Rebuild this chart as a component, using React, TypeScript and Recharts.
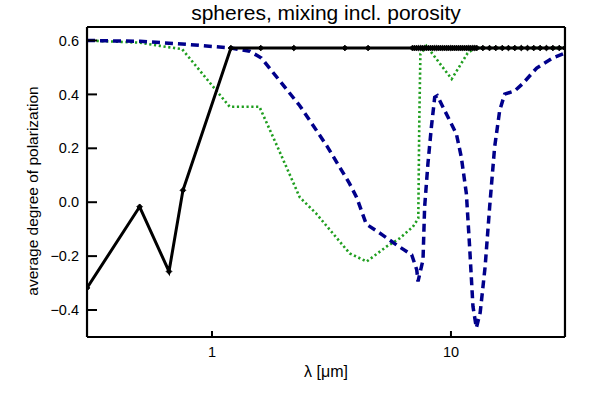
import React from 'react';
import { LineChart, Line, XAxis, YAxis, Customized } from 'recharts';

// ---- data ----
const blackX = [0.3, 0.498, 0.661, 0.756, 1.2, 1.6, 2.2, 3.6, 4.5,
  6.9, 7.03, 7.17, 7.31, 7.46, 7.6, 7.75, 7.9, 8.06, 8.22, 8.38, 8.54, 8.71, 8.88, 9.05, 9.23,
  9.41, 9.6, 9.78, 9.98, 10.17, 10.37, 10.57, 10.78, 10.99, 11.2, 11.42, 11.65, 11.87, 12.1,
  12.34, 12.58, 12.83, 13.6, 14.5, 15.4, 16.4, 17.4, 18.5, 19.7, 20.9, 22.2, 23.6, 25.1, 26.7, 28.4, 30];
const blackY = [-0.318, -0.017, -0.257, 0.044, 0.572, 0.572, 0.572, 0.572, 0.572,
  0.572, 0.572, 0.572, 0.572, 0.572, 0.572, 0.572, 0.572, 0.572, 0.572, 0.572, 0.572, 0.572, 0.572, 0.572, 0.572,
  0.572, 0.572, 0.572, 0.572, 0.572, 0.572, 0.572, 0.572, 0.572, 0.572, 0.572, 0.572, 0.572, 0.572,
  0.572, 0.572, 0.572, 0.572, 0.572, 0.572, 0.572, 0.572, 0.572, 0.572, 0.572, 0.572, 0.572, 0.572, 0.572, 0.572, 0.572];

const blueX = [0.3, 0.5, 0.75, 1.0, 1.2, 1.44, 1.61, 2.33, 3.02, 3.76, 4.03, 4.42, 5.18, 5.93, 6.85, 7.19, 7.28,
  7.64, 7.76, 8.01, 8.28, 8.55, 8.77, 9.88, 10.54, 11.05, 11.6, 11.97, 12.36, 12.77,
  13.25, 13.9, 14.52, 15.23, 15.99, 16.78, 18.48, 19.97, 22.85, 26.64, 30];
const blueY = [0.600, 0.597, 0.587, 0.578, 0.572, 0.56, 0.535, 0.358, 0.21, 0.07, 0.018, -0.081, -0.122, -0.159, -0.195, -0.25, -0.294,
  -0.214, -0.017, 0.143, 0.278, 0.389, 0.395, 0.303, 0.253, 0.167, 0.032, -0.165, -0.386, -0.466,
  -0.41, -0.239, -0.017, 0.204, 0.34, 0.401, 0.413, 0.44, 0.498, 0.535, 0.553];

const greenX = [0.3, 0.5, 0.605, 0.75, 1.186, 1.58, 1.87, 2.33, 2.73, 3.2, 3.77, 4.44, 5.37, 6.1, 6.93, 7.3,
  7.37, 7.45, 7.89, 8.38, 10.07, 11.74, 12.57, 30];
const greenY = [0.600, 0.592, 0.58, 0.568, 0.354, 0.354, 0.21, 0.018, -0.042, -0.115, -0.19, -0.22, -0.165, -0.134, -0.091, -0.06,
  0.3, 0.55, 0.58, 0.55, 0.457, 0.553, 0.572, 0.572];

const xMajor = [1, 10];
const xMinor = [0.4, 0.5, 0.6, 0.7, 0.8, 0.9, 2, 3, 4, 5, 6, 7, 8, 9, 20];
const yMajor = [-0.4, -0.2, 0, 0.2, 0.4, 0.6];
const yMinor = [-0.45, -0.35, -0.3, -0.25, -0.15, -0.1, -0.05, 0.05, 0.1, 0.15, 0.25, 0.3, 0.35, 0.45, 0.5, 0.55];

const title = 'spheres, mixing incl. porosity';
const xLabel = 'λ [μm]';
const yLabel = 'average degree of polarization';

const toData = (xs: number[], ys: number[]) => xs.map((x, i) => ({ x, y: ys[i] }));
const blackData = toData(blackX, blackY);
const blueData = toData(blueX, blueY);
const greenData = toData(greenX, greenY);

const FONT = '"Liberation Sans", Arial, Helvetica, sans-serif';
const W = 591;
const H = 393;
const M = { top: 27, right: 26, bottom: 56, left: 87 };
const T = 0.01; // axis thickness (tiny but positive so axes render)

const fmtY = (v: number) => {
  const s = Math.abs(v).toFixed(1);
  return v < -1e-9 ? '\u2212' + s : s;
};

const Diamond = (props: any) => {
  const { cx, cy } = props;
  if (cx == null || cy == null) return null;
  const r = 2.8;
  return <path d={`M${cx},${cy - r}L${cx + r},${cy}L${cx},${cy + r}L${cx - r},${cy}Z`} fill="#000" stroke="#000" strokeWidth={1} />;
};

const Texts = () => {
  const cx = M.left + (W - M.left - M.right) / 2;
  const cy = 191;
  return (
    <g fontFamily={FONT} fill="#000">
      <text x={cx} y={20} textAnchor="middle" fontSize={21}>{title}</text>
      <text x={cx} y={377} textAnchor="middle" fontSize={16}>{xLabel}</text>
      <text x={38} y={cy} textAnchor="middle" fontSize={15.5} transform={`rotate(-90 38 ${cy})`}>{yLabel}</text>
    </g>
  );
};

const axisStroke = { stroke: '#000', strokeWidth: 2.2 };
const tickLine = { stroke: '#000', strokeWidth: 2 };
const tickStyle = { fill: '#000', fontSize: 14.5, fontFamily: FONT };

export default function App() {
  return (
    <div style={{ position: 'absolute', left: 0, top: 0, width: W, height: H, background: '#fff' }}>
      <LineChart width={W} height={H} margin={M}>
        <XAxis xAxisId="x" dataKey="x" type="number" scale="log" domain={[0.3, 30]} allowDataOverflow
          ticks={xMajor} tickSize={-6} tickMargin={16} height={T} interval={0}
          axisLine={axisStroke} tickLine={tickLine} tick={tickStyle} />
        <XAxis xAxisId="xm" dataKey="x" type="number" scale="log" domain={[0.3, 30]} allowDataOverflow
          ticks={xMinor} tickSize={-3.5} height={T} interval={0}
          axisLine={false} tickLine={tickLine} tick={false} />
        <XAxis xAxisId="xt" orientation="top" dataKey="x" type="number" scale="log" domain={[0.3, 30]} allowDataOverflow
          ticks={xMajor} tickSize={-6} height={T} interval={0}
          axisLine={axisStroke} tickLine={tickLine} tick={false} />
        <XAxis xAxisId="xtm" orientation="top" dataKey="x" type="number" scale="log" domain={[0.3, 30]} allowDataOverflow
          ticks={xMinor} tickSize={-3.5} height={T} interval={0}
          axisLine={false} tickLine={tickLine} tick={false} />

        <YAxis yAxisId="y" type="number" domain={[-0.5, 0.65]} allowDataOverflow
          ticks={yMajor} tickSize={-10} tickMargin={18} width={T} interval={0} tickFormatter={fmtY}
          axisLine={axisStroke} tickLine={tickLine} tick={tickStyle} />
        <YAxis yAxisId="ym" type="number" domain={[-0.5, 0.65]} allowDataOverflow
          ticks={yMinor} tickSize={-5} width={T} interval={0}
          axisLine={false} tickLine={tickLine} tick={false} />
        <YAxis yAxisId="yr" orientation="right" type="number" domain={[-0.5, 0.65]} allowDataOverflow
          ticks={yMajor} tickSize={-10} width={T} interval={0}
          axisLine={axisStroke} tickLine={tickLine} tick={false} />
        <YAxis yAxisId="yrm" orientation="right" type="number" domain={[-0.5, 0.65]} allowDataOverflow
          ticks={yMinor} tickSize={-5} width={T} interval={0}
          axisLine={false} tickLine={tickLine} tick={false} />

        <Line xAxisId="x" yAxisId="y" data={greenData} dataKey="y" type="linear" stroke="#1f9e1f"
          strokeWidth={2.6} strokeDasharray="2.2 2.6" dot={false} isAnimationActive={false} />
        <Line xAxisId="x" yAxisId="y" data={blueData} dataKey="y" type="linear" stroke="#00008b"
          strokeWidth={3.5} strokeDasharray="8 5" dot={false} isAnimationActive={false} />
        <Line xAxisId="x" yAxisId="y" data={blackData} dataKey="y" type="linear" stroke="#000"
          strokeWidth={3} dot={<Diamond />} isAnimationActive={false} />

        <Customized component={Texts} />
      </LineChart>
    </div>
  );
}
